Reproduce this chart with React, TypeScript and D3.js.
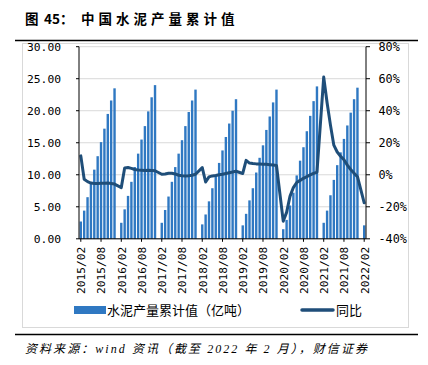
import React from "react";
import * as d3 from "d3";

// ---- data (Feb..Dec of each year; January has no separate release) ----
const years = [2015, 2016, 2017, 2018, 2019, 2020, 2021, 2022];
const cum2015 = [2.7, 4.4, 6.5, 8.7, 10.8, 12.9, 15.1, 17.2, 19.5, 21.6, 23.5];
const cum2016 = [2.5, 4.6, 6.7, 8.9, 11.2, 13.3, 15.5, 17.6, 19.9, 22.1, 24.0];
const cum2017 = [2.5, 4.5, 6.6, 8.9, 11.2, 13.3, 15.4, 17.6, 19.8, 21.6, 23.3];
const cum2018 = [2.25, 3.8, 5.85, 7.9, 9.8, 11.85, 13.8, 15.9, 18.0, 20.0, 21.8];
const cum2019 = [2.1, 3.9, 6.0, 7.9, 10.35, 12.65, 14.6, 17.0, 19.1, 21.3, 23.3];
const cum2020 = [1.5, 2.95, 5.2, 7.2, 9.9, 12.2, 14.3, 16.8, 19.2, 21.5, 23.8];
const cum2021 = [2.5, 4.4, 6.8, 9.2, 11.5, 13.5, 15.6, 17.7, 19.7, 21.8, 23.6];
const cum2022 = [2.1];

const yoy2015 = [11.8, -2.8, -4.3, -5.2, -5.4, -5.4, -5.3, -5.3, -5.2, -5.4, -5.8];
const yoy2016 = [-8.0, 4.2, 4.5, 4.0, 3.3, 3.0, 2.8, 2.6, 2.8, 2.7, 2.5];
const yoy2017 = [0.3, 0.5, 1.0, 0.9, 0.5, -0.3, -0.6, -0.7, -0.6, -0.3, 0.3];
const yoy2018 = [4.5, -4.5, -1.3, -0.7, -0.5, 0.0, 0.3, 0.8, 1.3, 1.7, 2.2];
const yoy2019 = [0.8, 9.0, 7.3, 7.0, 6.8, 6.7, 6.6, 6.5, 6.3, 6.1, 5.8];
const yoy2020 = [-29.0, -23.5, -13.5, -8.0, -4.8, -3.5, -2.2, -1.2, -0.1, 0.9, 1.6];
const yoy2021 = [61.0, 45.0, 31.0, 18.5, 14.2, 11.6, 9.4, 6.0, 3.3, 1.0, -1.2];
const yoy2022 = [-17.5];

const leftTicks = [0, 5, 10, 15, 20, 25, 30];
const rightTicks = [-40, -20, 0, 20, 40, 60, 80];

const titleFig = "图";
const titleNum = "45：";
const titleText = "中国水泥产量累计值";
const barLegend = "水泥产量累计值（亿吨）";
const lineLegend = "同比";
const source = "资料来源：wind 资讯（截至 2022 年 2 月），财信证券";

const cumByYear = [cum2015, cum2016, cum2017, cum2018, cum2019, cum2020, cum2021, cum2022];
const yoyByYear = [yoy2015, yoy2016, yoy2017, yoy2018, yoy2019, yoy2020, yoy2021, yoy2022];

type Pt = { cat: string; i: number; cum: number | null; yoy: number | null };
const points: Pt[] = [];
years.forEach((y, yi) => {
  const n = cumByYear[yi].length;
  for (let m = 2; m <= 13; m++) {
    if (m === 13) {
      if (yi < years.length - 1) {
        points.push({ cat: `${y + 1}/01`, i: points.length, cum: null, yoy: null });
      }
      continue;
    }
    const k = m - 2;
    if (k >= n) continue;
    points.push({
      cat: `${y}/${String(m).padStart(2, "0")}`,
      i: points.length,
      cum: cumByYear[yi][k],
      yoy: yoyByYear[yi][k],
    });
  }
});

const BAR = "#2f78c2";
const LINE = "#1f4e79";
const MONO = "'DejaVu Sans Mono', monospace";
const CJK = "'Noto Sans CJK SC', sans-serif";

export default function App() {
  const cats = points.map((p) => p.cat);
  const x = d3.scalePoint<string>().domain(cats).range([80.8, 364.2]);
  const yL = d3.scaleLinear().domain([0, 30]).range([238.8, 46.7]);
  const yR = d3.scaleLinear().domain([-40, 80]).range([238.8, 46.7]);
  const axL = 79;
  const axR = 366;
  const bw = 2.4;

  const lineGen = d3
    .line<Pt>()
    .x((d) => x(d.cat)!)
    .y((d) => yR(d.yoy as number))
    .curve(d3.curveLinear);
  const linePts = points.filter((p) => p.yoy !== null);

  const xTickCats = cats.filter((_, i) => i % 6 === 0);

  return (
    <div style={{ position: "absolute", left: 0, top: 0 }}>
      <svg width={428} height={365} style={{ display: "block", background: "#fff" }}>
        {/* title */}
        <text x={25} y={24} fontFamily={CJK} fontWeight="bold" fontSize={13.5} fill="#000">
          {titleFig}
        </text>
        <text x={44} y={24} fontFamily={CJK} fontWeight="bold" fontSize={13.5} fill="#000">
          {titleNum}
        </text>
        <text x={81} y={24} fontFamily={CJK} fontWeight="bold" fontSize={13.5} letterSpacing={4} fill="#000">
          {titleText}
        </text>
        <line x1={15} x2={418} y1={40.5} y2={40.5} stroke="#000" strokeWidth={1.5} />

        {/* frame */}
        <rect x={22.5} y={43.5} width={386} height={284} fill="none" stroke="#d9d9d9" strokeWidth={1} />

        {/* gridlines */}
        {leftTicks.map((t) => (
          <line key={"g" + t} x1={axL} x2={axR} y1={yL(t)} y2={yL(t)} stroke="#d9d9d9" strokeWidth={1} />
        ))}

        {/* bars */}
        {points
          .filter((p) => p.cum !== null)
          .map((p) => (
            <rect
              key={p.cat}
              x={x(p.cat)! - bw / 2}
              y={yL(p.cum as number)}
              width={bw}
              height={yL(0) - yL(p.cum as number)}
              fill={BAR}
            />
          ))}

        {/* line */}
        <path d={lineGen(linePts) || ""} fill="none" stroke={LINE} strokeWidth={3} strokeLinejoin="round" strokeLinecap="round" />

        {/* left axis */}
        <line x1={axL} x2={axL} y1={yL(30)} y2={yL(0)} stroke="#000" strokeWidth={1} />
        {leftTicks.map((t) => (
          <g key={"l" + t}>
            <line x1={axL - 3} x2={axL} y1={yL(t)} y2={yL(t)} stroke="#000" />
            <text x={61} y={yL(t)} dy="0.35em" textAnchor="end" fontFamily={MONO} fontSize={11.3} fill="#000">
              {t.toFixed(2)}
            </text>
          </g>
        ))}

        {/* right axis */}
        <line x1={axR} x2={axR} y1={yR(80)} y2={yR(-40)} stroke="#000" strokeWidth={1} />
        {rightTicks.map((t) => (
          <g key={"r" + t}>
            <line x1={axR} x2={axR + 4} y1={yR(t)} y2={yR(t)} stroke="#000" />
            <text x={378.5} y={yR(t)} dy="0.35em" textAnchor="start" fontFamily={MONO} fontSize={11.8} fill="#000">
              {t + "%"}
            </text>
          </g>
        ))}

        {/* bottom axis */}
        <line x1={axL} x2={axR} y1={yL(0)} y2={yL(0)} stroke="#000" strokeWidth={1} />
        {xTickCats.map((c) => (
          <g key={"x" + c}>
            <line x1={x(c)!} x2={x(c)!} y1={yL(0)} y2={yL(0) + 3} stroke="#000" />
            <text
              transform={`translate(${x(c)! + 0.5},${yL(0) + 8}) rotate(-90)`}
              dy="0.35em"
              textAnchor="end"
              fontFamily={MONO}
              fontSize={11.2}
              fill="#000"
            >
              {c}
            </text>
          </g>
        ))}

        {/* legend */}
        <rect x={74} y={306} width={32} height={8} fill={BAR} />
        <text x={107} y={315} fontFamily={CJK} fontSize={13} fill="#000">
          {barLegend}
        </text>
        <line x1={302} x2={333} y1={310} y2={310} stroke={LINE} strokeWidth={3.5} strokeLinecap="round" />
        <text x={336} y={315} fontFamily={CJK} fontSize={13} fill="#000">
          {lineLegend}
        </text>

        {/* bottom rule and source */}
        <line x1={15} x2={418} y1={334.5} y2={334.5} stroke="#000" strokeWidth={1.5} />
        <text
          x={25}
          y={353}
          fontFamily={"'Liberation Serif', " + CJK}
          fontStyle="italic"
          fontSize={12}
          textLength={342}
          lengthAdjust="spacing"
          fill="#000"
        >
          {source}
        </text>
      </svg>
    </div>
  );
}
